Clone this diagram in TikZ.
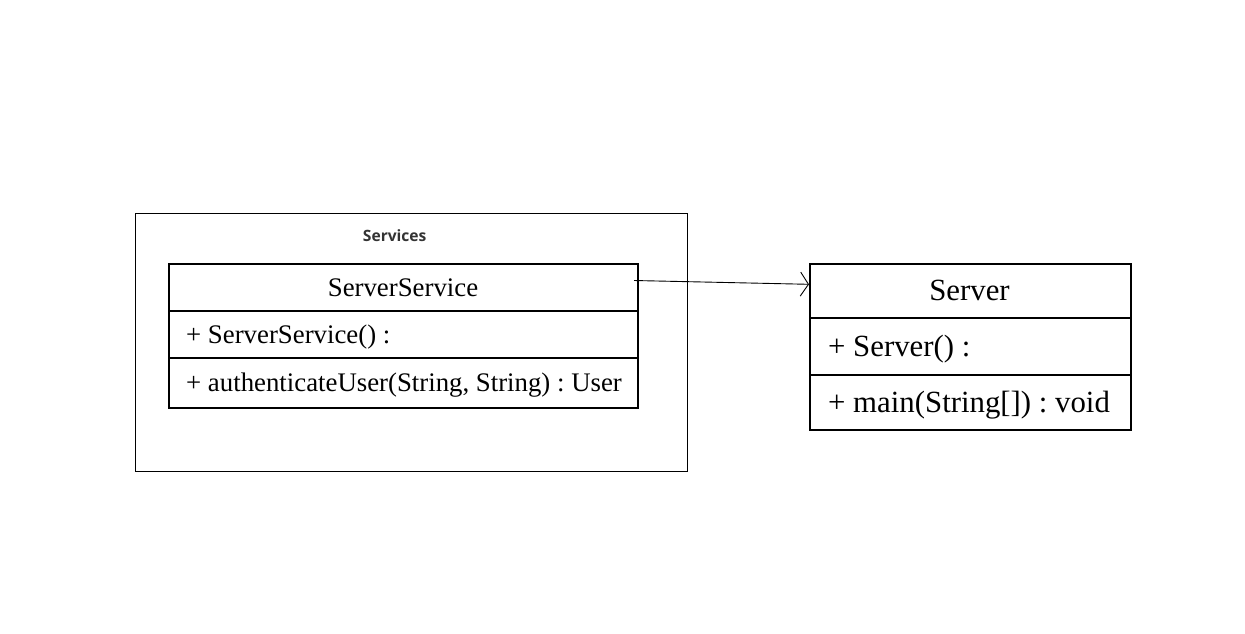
\documentclass[tikz,border=0pt]{standalone}
\usepackage{fontspec}
\setmainfont{Liberation Serif}
\newfontfamily\pkgfont{Open Sans}
\usetikzlibrary{arrows.meta}
\frenchspacing
\tikzset{
  pkgbox/.style={draw, line width=1pt, inner sep=0pt, anchor=north west},
  clsbox/.style={draw, line width=2pt, inner sep=0pt, anchor=north west},
  divider/.style={line width=2pt},
  pkglabel/.style={font=\pkgfont\bfseries\fontsize{15.6}{18}\selectfont, text=black!80, inner sep=0pt, text height=11.1pt, text depth=0pt},
  sstext/.style={font=\fontsize{26.8}{30}\selectfont, inner sep=0pt, text height=17.7pt, text depth=0pt},
  svtext/.style={font=\fontsize{30.8}{34}\selectfont, inner sep=0pt, text height=20.4pt, text depth=0pt},
  dep/.style={line width=0.9pt, -{Straight Barb[length=8pt,width=24pt,line width=0.9pt]}}
}
\begin{document}
\begin{tikzpicture}[x=1pt,y=-1pt]
\useasboundingbox[fill=white] (0,0) rectangle (1245,633);
% package
\node[pkgbox, minimum width=552pt, minimum height=258pt] (pkg) at (135,213) {};
\node[pkglabel] (pkgname) at (394.7,236) {Services};
% ServerService class
\node[clsbox, minimum width=469pt, minimum height=144pt] (ss) at (168,263) {};
\draw[divider] (168,311) -- (637,311);
\draw[divider] (168,358) -- (637,358);
\node[sstext] (ssname) at (403,287.5) {ServerService};
\node[sstext, anchor=west] (ssop1) at (186,334.5) {+ ServerService() :};
\node[sstext, anchor=west] (ssop2) at (186,382.5) {+ authenticateUser(String, String) : User};
% Server class
\node[clsbox, minimum width=321pt, minimum height=166pt] (sv) at (809,263) {};
\draw[divider] (809,318) -- (1130,318);
\draw[divider] (809,375) -- (1130,375);
\node[svtext] (svname) at (969.5,290.5) {Server};
\node[svtext, anchor=west] (svop1) at (828,346.5) {+ Server() :};
\node[svtext, anchor=west] (svop2) at (828,402) {+ main(String[]) : void};
% dependency
\coordinate (depstart) at (634,280.5);
\coordinate (depend) at (809,284.3);
\draw[dep] (depstart) -- (depend);
\end{tikzpicture}
\end{document}
